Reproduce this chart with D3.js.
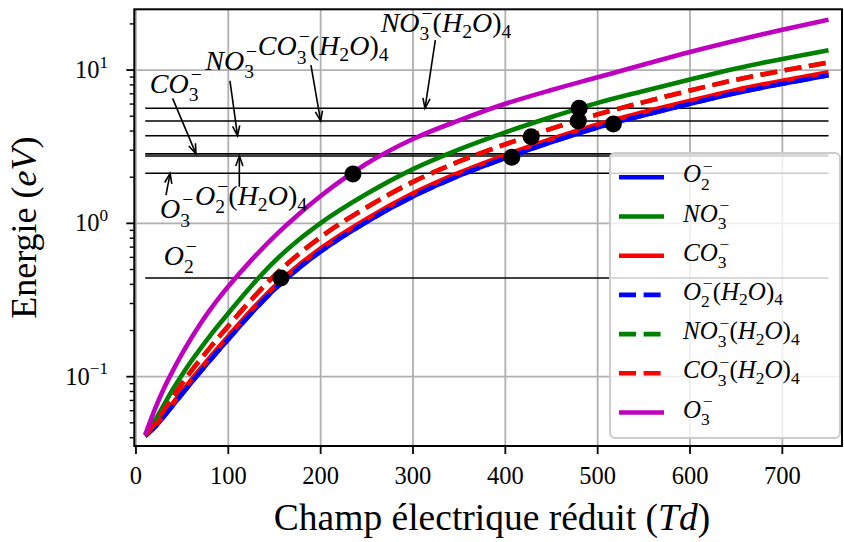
<!DOCTYPE html>
<html><head><meta charset="utf-8">
<script src="https://cdn.jsdelivr.net/npm/d3@7"></script>
<style>body{margin:0;background:#fff;} svg{display:block;} text{font-family:"Liberation Serif","Times New Roman",serif;fill:#000;}</style>
</head><body>
<svg id="chart" width="844" height="542"></svg>
<script>
// ---------------- data ----------------
const xValues = [10,20,30,40,50,60,70,80,90,100,125,150,175,200,250,300,350,400,450,500,550,600,650,700,750];
const o2     = [0.0410,0.0466,0.0547,0.0650,0.0773,0.0916,0.1081,0.1274,0.1496,0.1754,0.2594,0.3707,0.5028,0.6553,1.025,1.498,2.045,2.665,3.394,4.224,5.078,6.034,7.090,8.140,9.239];
const no3    = [0.0420,0.0511,0.0650,0.0828,0.1030,0.1265,0.1528,0.1841,0.2188,0.2594,0.3908,0.5649,0.7699,1.0035,1.558,2.258,3.038,3.923,4.938,6.105,7.305,8.682,10.25,11.82,13.45];
const co3    = [0.0412,0.0472,0.0560,0.0671,0.0804,0.0957,0.1132,0.1334,0.1567,0.1837,0.2716,0.3882,0.5265,0.6862,1.073,1.569,2.141,2.790,3.553,4.422,5.317,6.318,7.424,8.524,9.674];
const o2h2o  = [0.0410,0.0466,0.0547,0.0650,0.0773,0.0916,0.1081,0.1274,0.1496,0.1754,0.2594,0.3707,0.5028,0.6553,1.025,1.498,2.045,2.665,3.394,4.224,5.078,6.034,7.090,8.140,9.239];
const no3h2o = [0.0415,0.0488,0.0600,0.0738,0.0904,0.1091,0.1300,0.1542,0.1820,0.2143,0.3177,0.4560,0.6214,0.8137,1.275,1.865,2.533,3.279,4.147,5.136,6.175,7.356,8.642,9.899,11.21];
const co3h2o = [0.0415,0.0488,0.0600,0.0738,0.0904,0.1091,0.1300,0.1542,0.1820,0.2143,0.3177,0.4560,0.6214,0.8137,1.275,1.865,2.533,3.279,4.147,5.136,6.175,7.356,8.642,9.899,11.21];
const o3     = [0.0416,0.0603,0.0832,0.1096,0.1413,0.1786,0.2223,0.2716,0.3266,0.3873,0.5754,0.8222,1.130,1.507,2.455,3.548,4.699,6.026,7.413,8.974,10.86,13.12,15.60,18.32,21.28];

const seriesLabels = ["O_2^-","NO_3^-","CO_3^-","O_2^-(H_2O)_4","NO_3^-(H_2O)_4","CO_3^-(H_2O)_4","O_3^-"];
const seriesColors = ["#0000ff","#008000","#ff0000","#0000ff","#008000","#ff0000","#bf00bf"];
const seriesDashed = [false,false,false,true,true,true,false];
const seriesValues = [o2,no3,co3,o2h2o,no3h2o,co3h2o,o3];

// threshold energies (horizontal lines)
const thresholdValues = [0.44, 2.12, 2.75, 2.84, 3.73, 4.65, 5.63];
const thresholdStart = 10, thresholdEnd = 750;

// crossing points
const dotX = [157, 235, 407, 428, 480, 479, 517];
const dotY = [0.44, 2.1, 2.7, 3.67, 5.63, 4.65, 4.44];

// annotations: label, text pos (x,y), arrow tail (x,y), arrow tip (x,y)
const annLabels = ["CO_3^-","NO_3^-","CO_3^-(H_2O)_4","NO_3^-(H_2O)_4","O_3^-","O_2^-(H_2O)_4","O_2^-"];
const annTextX  = [15, 75, 132, 265, 26, 64, 30];
const annTextY  = [7.1, 10.0, 12.5, 17.7, 1.08, 1.32, 0.535];
const annTailX  = [39.7, 101.8, 189.5, 324.2, 32.5, 111.9, null];
const annTailY  = [6.54, 8.51, 10.78, 15.7, 1.53, 1.73, null];
const annTipX   = [65, 110, 200, 313, 37, 112, null];
const annTipY   = [2.84, 3.73, 4.65, 5.63, 2.12, 2.75, null];

const xTicks = [0,100,200,300,400,500,600,700];
const yTicks = [0.1, 1, 10];
const yTickLabels = ["10^{-1}","10^{0}","10^{1}"];
const xTitle = "Champ électrique réduit";
const yTitle = "Energie";

// ---------------- layout ----------------
const svg = d3.select("#chart");
const L = 134.3, R = 842, T = 9.3, B = 446;
const x = d3.scaleLinear().domain([-1.8, 764.6]).range([L, R]);
const y = d3.scaleLog().domain([0.0353, 24.9]).range([B, T]);

svg.append("defs").append("clipPath").attr("id","clip")
  .append("rect").attr("x",L).attr("y",T).attr("width",R-L).attr("height",B-T);

// math text helper
function parseMath(str){
  const toks=[]; let i=0;
  const readArg=()=>{ let v; if(str[i]==='{'){ const j=str.indexOf('}',i); v=str.slice(i+1,j); i=j+1; } else { v=str[i]; i++; } return v.replace(/-/g,'\u2212'); };
  while(i<str.length){
    const c=str[i];
    if(c==='_'||c==='^'){
      const grp={type:'script',sub:null,sup:null};
      while(i<str.length && (str[i]==='_'||str[i]==='^')){
        const k=str[i]; i++; const v=readArg();
        if(k==='_') grp.sub=v; else grp.sup=v;
      }
      toks.push(grp);
    } else {
      toks.push({type:'char',text:c,italic:/[A-Za-z]/.test(c)});
      i++;
    }
  }
  return toks;
}
function mathLabel(parent, px, py, str, size, anchor, forceRoman){
  const g=parent.append('g');
  let cx=0, prevItalic=false;
  for(const t of parseMath(str)){
    if(t.type==='char'){
      const it = t.italic && !forceRoman;
      const el=g.append('text').attr('x',cx).attr('y',0).attr('font-size',size)
        .attr('font-style',it?'italic':'normal').text(t.text);
      cx+=el.node().getComputedTextLength();
      prevItalic=it;
    } else {
      const ss=size*0.7; let w=0;
      if(t.sub){
        const el=g.append('text').attr('x',cx).attr('y',size*(t.sup?0.30:0.22)).attr('font-size',ss).text(t.sub);
        w=Math.max(w,el.node().getComputedTextLength());
      }
      if(t.sup){
        const off = prevItalic?size*0.07:0;
        const el=g.append('text').attr('x',cx+off).attr('y',-size*0.42).attr('font-size',ss).text(t.sup);
        w=Math.max(w,el.node().getComputedTextLength()+off);
      }
      cx+=w;
    }
  }
  const dx = anchor==='middle'? -cx/2 : anchor==='end'? -cx : 0;
  g.attr('transform',`translate(${px+dx},${py})`);
  return g;
}

// grid
const grid = svg.append("g");
grid.selectAll(".gx").data(xTicks).join("line")
  .attr("x1",d=>x(d)).attr("x2",d=>x(d)).attr("y1",T).attr("y2",B)
  .attr("stroke","#b0b0b0").attr("stroke-width",1.8);
grid.selectAll(".gy").data(yTicks).join("line")
  .attr("x1",L).attr("x2",R).attr("y1",d=>y(d)).attr("y2",d=>y(d))
  .attr("stroke","#b0b0b0").attr("stroke-width",1.8);

const plot = svg.append("g").attr("clip-path","url(#clip)");

// threshold lines
plot.selectAll(".th").data(thresholdValues).join("line")
  .attr("x1",x(thresholdStart)).attr("x2",x(thresholdEnd))
  .attr("y1",d=>y(d)).attr("y2",d=>y(d))
  .attr("stroke","#000").attr("stroke-width",1.6);

// curves
const line = d3.line().x((d,i)=>x(xValues[i])).y(d=>y(d)).curve(d3.curveMonotoneX);
seriesValues.forEach((vals,k)=>{
  plot.append("path").attr("d",line(vals)).attr("fill","none")
    .attr("stroke",seriesColors[k]).attr("stroke-width",4.6)
    .attr("stroke-dasharray",seriesDashed[k]?"17,7.6":null);
});

// dots
plot.selectAll(".dot").data(dotX).join("circle")
  .attr("cx",d=>x(d)).attr("cy",(d,i)=>y(dotY[i])).attr("r",8.5).attr("fill","#000");

// annotations
const ann = svg.append("g");
annLabels.forEach((lab,i)=>{
  mathLabel(ann, x(annTextX[i]), y(annTextY[i]), lab, 28, 'start');
  if(annTailX[i]!==null){
    const x1=x(annTailX[i]), y1=y(annTailY[i]), x2=x(annTipX[i]), y2=y(annTipY[i]);
    ann.append("line").attr("x1",x1).attr("y1",y1).attr("x2",x2).attr("y2",y2)
      .attr("stroke","#000").attr("stroke-width",1.6);
    const a=Math.atan2(y2-y1,x2-x1), hl=10, hw=3.6;
    const bx=x2-hl*Math.cos(a), by=y2-hl*Math.sin(a);
    const px=-Math.sin(a)*hw, py=Math.cos(a)*hw;
    ann.append("path").attr("d",`M${bx+px},${by+py}L${x2},${y2}L${bx-px},${by-py}`)
      .attr("fill","none").attr("stroke","#000").attr("stroke-width",1.6);
  }
});

// axes spines & ticks
const ax = svg.append("g");
ax.append("rect").attr("x",L).attr("y",T).attr("width",R-L).attr("height",B-T)
  .attr("fill","none").attr("stroke","#000").attr("stroke-width",2);
ax.selectAll(".xt").data(xTicks).join("line")
  .attr("x1",d=>x(d)).attr("x2",d=>x(d)).attr("y1",B).attr("y2",B+8)
  .attr("stroke","#000").attr("stroke-width",1.8);
xTicks.forEach(d=>{
  ax.append("text").attr("x",x(d)).attr("y",484).attr("text-anchor","middle")
    .attr("font-size",24.5).text(d);
});
const minor=[];
[0.01,0.1,1,10].forEach(dec=>{ for(let m=2;m<=9;m++){ const v=m*dec; if(v>=y.domain()[0]&&v<=y.domain()[1]) minor.push(v);} });
ax.selectAll(".ymt").data(minor).join("line")
  .attr("x1",L-4.6).attr("x2",L).attr("y1",d=>y(d)).attr("y2",d=>y(d))
  .attr("stroke","#000").attr("stroke-width",1.4);
ax.selectAll(".yt").data(yTicks).join("line")
  .attr("x1",L-8).attr("x2",L).attr("y1",d=>y(d)).attr("y2",d=>y(d))
  .attr("stroke","#000").attr("stroke-width",1.8);
yTicks.forEach((d,i)=>{
  mathLabel(ax, 108, y(d)+8, yTickLabels[i], 24.5, 'end', true);
});

// axis titles
const xt = svg.append("text").attr("x",492).attr("y",530).attr("text-anchor","middle").attr("font-size",37.5);
xt.append("tspan").text(xTitle+" (");
xt.append("tspan").attr("font-style","italic").text("Td");
xt.append("tspan").text(")");
const yt = svg.append("text").attr("transform",`translate(36,${(T+B)/2}) rotate(-90)`).attr("text-anchor","middle").attr("font-size",36);
yt.append("tspan").text(yTitle+" (");
yt.append("tspan").attr("font-style","italic").text("eV");
yt.append("tspan").text(")");

// legend
const lg = svg.append("g");
lg.append("rect").attr("x",610).attr("y",153).attr("width",230).attr("height",285).attr("rx",5)
  .attr("fill","#fff").attr("fill-opacity",0.8).attr("stroke","#cccccc").attr("stroke-width",2);
seriesLabels.forEach((lab,i)=>{
  const yy = 177.3 + i*39.2;
  lg.append("line").attr("x1",619).attr("x2",664).attr("y1",yy).attr("y2",yy)
    .attr("stroke",seriesColors[i]).attr("stroke-width",4.6)
    .attr("stroke-dasharray",seriesDashed[i]?"17,7.6":null);
  mathLabel(lg, 683, yy+5, lab, 25, 'start');
});
</script>
</body></html>
